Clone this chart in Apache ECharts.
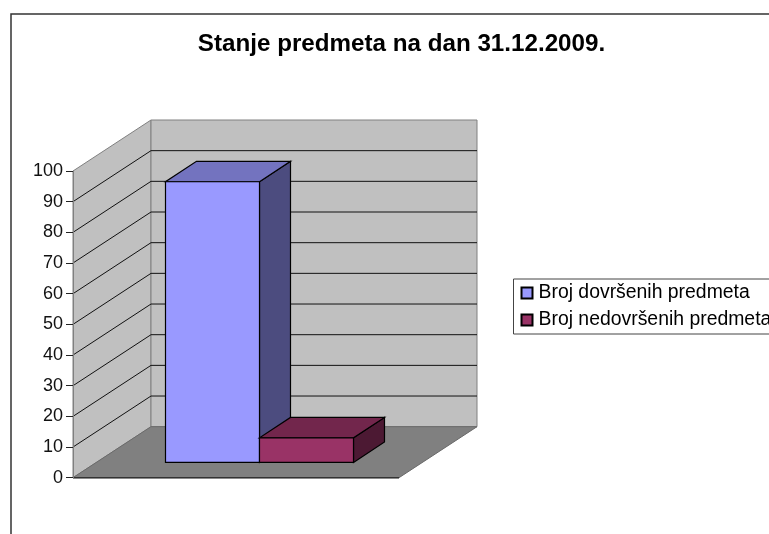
<!DOCTYPE html>
<html>
<head>
<meta charset="utf-8">
<style>
  html, body { margin: 0; padding: 0; background: #fff; overflow: hidden; }
  #chart { width: 769px; height: 534px; }
</style>
<script src="https://cdn.jsdelivr.net/npm/echarts@6/dist/echarts.min.js"></script>
</head>
<body>
<div id="chart"></div>
<script>
var titleText = 'Stanje predmeta na dan 31.12.2009.';
var categories = ['2009'];
var seriesNames = ['Broj dovršenih predmeta', 'Broj nedovršenih predmeta'];
var doneValues = [91.5];
var openValues = [8];
var yTicks = [0, 10, 20, 30, 40, 50, 60, 70, 80, 90, 100];

// privid dubine, isto kao u 3D stupcima
var wallDx = 78, wallDy = -51;
var barDx = 31, barDy = -20.4;
var barWidth = 94;

function poly(points, fill, stroke, width) {
  return {
    type: 'polygon',
    shape: { points: points },
    style: { fill: fill, stroke: stroke, lineWidth: width }
  };
}

function renderWalls(params, api) {
  var cs = params.coordSys;
  var l = cs.x, r = cs.x + cs.width, t = cs.y, b = cs.y + cs.height;
  var children = [
    poly([[l, b], [l + wallDx, b + wallDy], [l + wallDx, t + wallDy], [l, t]], '#C0C0C0', '#808080', 1),
    poly([[l + wallDx, b + wallDy], [r + wallDx, b + wallDy], [r + wallDx, t + wallDy], [l + wallDx, t + wallDy]], '#C0C0C0', '#808080', 1),
    poly([[l, b], [r, b], [r + wallDx, b + wallDy], [l + wallDx, b + wallDy]], '#808080', '#6a6a6a', 1)
  ];
  yTicks.forEach(function (v) {
    if (v === 0 || v === 100) return;
    var p = api.coord([0, v]);
    children.push({
      type: 'polyline',
      shape: { points: [[l, p[1]], [l + wallDx, p[1] + wallDy], [r + wallDx, p[1] + wallDy]] },
      style: { fill: null, stroke: '#111', lineWidth: 1 }
    });
  });
  children.push({
    type: 'line',
    shape: { x1: l, y1: b, x2: r, y2: b },
    style: { stroke: '#333', lineWidth: 1.5 }
  });
  return { type: 'group', children: children };
}

function makeBar(side, front, top, dark) {
  return function (params, api) {
    var mid = api.coord([0, 0]);
    var p = api.coord([0, api.value(1)]);
    // stupac stoji na sredini dubine poda
    var sx = (wallDx - barDx) / 2, sy = (wallDy - barDy) / 2;
    var x0 = mid[0] + sx + (side === 0 ? -barWidth : 0);
    var x1 = x0 + barWidth;
    var y0 = mid[1] + sy, y1 = p[1] + sy;
    return {
      type: 'group',
      children: [
        poly([[x1, y0], [x1 + barDx, y0 + barDy], [x1 + barDx, y1 + barDy], [x1, y1]], dark, '#000', 1.2),
        poly([[x0, y1], [x1, y1], [x1 + barDx, y1 + barDy], [x0 + barDx, y1 + barDy]], top, '#000', 1.2),
        poly([[x0, y0], [x1, y0], [x1, y1], [x0, y1]], front, '#000', 1.2)
      ]
    };
  };
}

var chart = echarts.init(document.getElementById('chart'));
chart.setOption({
  animation: false,
  backgroundColor: '#fff',
  textStyle: { fontFamily: 'Liberation Sans' },
  title: {
    text: titleText,
    left: 396.5,
    top: 27,
    textAlign: 'center',
    textStyle: { fontFamily: 'Liberation Sans', fontSize: 24.2, fontWeight: 'bold', color: '#000' }
  },
  grid: { left: 73, top: 171, width: 326, height: 306.7 },
  xAxis: {
    type: 'category',
    data: categories,
    axisLine: { show: false },
    axisTick: { show: false },
    axisLabel: { show: false }
  },
  yAxis: {
    type: 'value',
    min: 0,
    max: 100,
    interval: 10,
    splitLine: { show: false },
    axisLine: { show: true, lineStyle: { color: '#808080', width: 1 } },
    axisTick: { show: true, length: 7, lineStyle: { color: '#222', width: 1 } },
    axisLabel: { fontSize: 18, color: '#111', margin: 10, fontFamily: 'Liberation Sans' },
    z: 5
  },
  legend: {
    data: seriesNames,
    orient: 'vertical',
    left: 513.5,
    top: 279,
    padding: [4, 40, 4, 7],
    itemWidth: 11,
    itemHeight: 11,
    itemGap: 7,
    icon: 'rect',
    borderColor: '#444',
    borderWidth: 1,
    backgroundColor: '#fff',
    textStyle: { fontSize: 19.4, color: '#000', lineHeight: 20, padding: [0, 0, 0, 1], fontFamily: 'Liberation Sans' }
  },
  graphic: [{
    type: 'polyline',
    silent: true,
    shape: { points: [[11, 534], [11, 14], [769, 14]] },
    style: { fill: null, stroke: '#333', lineWidth: 1.5 }
  }],
  series: [
    { type: 'custom', coordinateSystem: 'cartesian2d', silent: true, renderItem: renderWalls, data: [[0, 0]], z: 1 },
    {
      name: seriesNames[0], type: 'custom', coordinateSystem: 'cartesian2d', silent: true, z: 2,
      renderItem: makeBar(0, '#9999FF', '#7373BF', '#4C4C7F'),
      itemStyle: { color: '#9999FF', borderColor: '#000', borderWidth: 1 },
      data: doneValues.map(function (v, i) { return [i, v]; })
    },
    {
      name: seriesNames[1], type: 'custom', coordinateSystem: 'cartesian2d', silent: true, z: 3,
      renderItem: makeBar(1, '#993366', '#72264C', '#4C1933'),
      itemStyle: { color: '#993366', borderColor: '#000', borderWidth: 1 },
      data: openValues.map(function (v, i) { return [i, v]; })
    }
  ]
});
</script>
</body>
</html>
